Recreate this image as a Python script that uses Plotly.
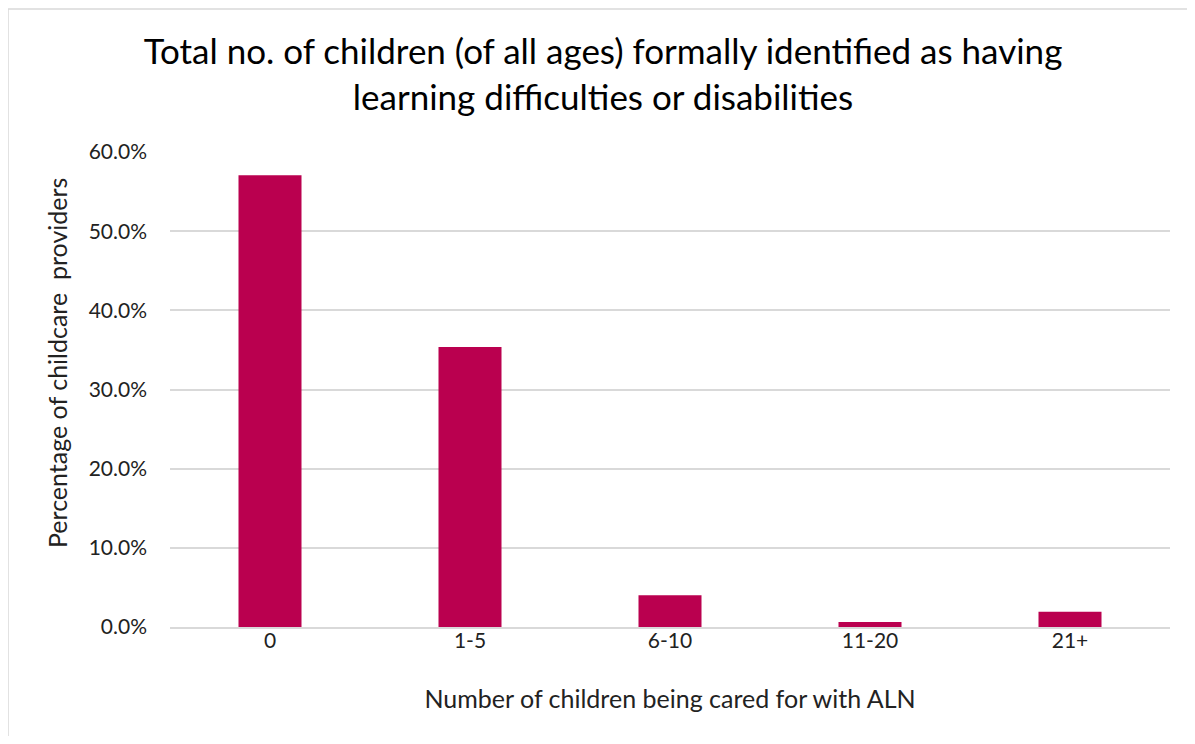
import plotly.graph_objects as go

categories = ["0", "1-5", "6-10", "11-20", "21+"]
values = [0.5705, 0.3537, 0.040, 0.0063, 0.0194]
tick_vals = [0, 0.1, 0.2, 0.3, 0.4, 0.5, 0.6]
tick_text = ["0.0%", "10.0%", "20.0%", "30.0%", "40.0%", "50.0%", "60.0%"]

# page body has an 8px margin, so figure coords = page coords - 8
W, H = 1179, 728
ml, mr, mt, mb = 162, 17, 144, 109
pw, ph = W - ml - mr, H - mt - mb

fig = go.Figure(go.Bar(x=categories, y=values, marker_color="#BA004F",
                       marker_line_width=0))

font = "Lato, Open Sans, sans-serif"
fig.update_layout(
    width=W, height=H,
    margin=dict(l=ml, r=mr, t=mt, b=mb),
    paper_bgcolor="white", plot_bgcolor="white",
    bargap=0.685,
    font=dict(family=font, color="#000000", size=20),
    showlegend=False,
    title=dict(
        text="Total no. of children (of all ages) formally identified as having<br>learning difficulties or disabilities",
        x=595 / W, xanchor="center", xref="container", yref="container",
        y=1 - 56 / H, yanchor="middle",
        font=dict(family=font, size=35, color="#000000"),
    ),
    xaxis=dict(showgrid=False, showline=True, linecolor="#D9D9D9", linewidth=1.5,
               ticks="", tickfont=dict(size=21, color="#222"),
               ticklabelstandoff=-6,
               title=dict(text="Number of children being cared for with ALN",
                          font=dict(size=25, color="#222"), standoff=40)),
    yaxis=dict(range=[0, 0.6], tickvals=tick_vals, ticktext=tick_text,
               showgrid=True, gridcolor="#D9D9D9", gridwidth=1.5,
               zeroline=False, ticks="", tickfont=dict(size=21, color="#222"),
               ticklabelstandoff=22),
)

# y-axis title as a rotated annotation (positioned as in the reference)
fig.add_annotation(text="Percentage of childcare  providers", textangle=-90,
                   xref="paper", yref="paper",
                   x=(49 - ml) / pw, y=(H - mb - 355) / ph,
                   xanchor="center", yanchor="middle", showarrow=False,
                   font=dict(family=font, size=25, color="#222"))

# outer chart border (light gray)
fig.add_shape(type="rect", xref="paper", yref="paper",
              x0=(0 - ml) / pw, x1=(W + 40 - ml) / pw,
              y0=(-40 - mb) / ph, y1=(H - 1 - mb) / ph,
              line=dict(color="#D9D9D9", width=1.5), layer="below")

fig.write_html("out.html")
